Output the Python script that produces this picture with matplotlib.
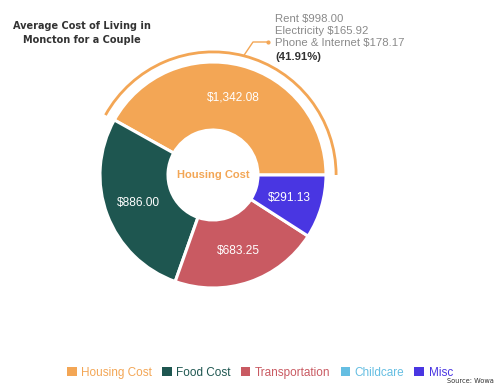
import numpy as np
import matplotlib
matplotlib.use("Agg")
import matplotlib.pyplot as plt
from matplotlib.patches import Wedge, Patch

categories = ["Housing Cost", "Food Cost", "Transportation", "Childcare", "Misc"]
values = [1342.08, 886.00, 683.25, 0.0, 291.13]
colors = ["#F3A655", "#1E5650", "#C95A62", "#65BEE2", "#4936E2"]
housing_detail = ["Rent $998.00", "Electricity $165.92", "Phone & Internet $178.17"]
title = "Average Cost of Living in\nMoncton for a Couple"
center_label = "Housing Cost"
source = "Source: Wowa"

W, H = 500, 389
fig = plt.figure(figsize=(W / 100, H / 100), dpi=100)
ax = fig.add_axes([0, 0, 1, 1])

font = "Liberation Sans"
cx, cy = 213, H - 175
R = 113
hole = 45

total = sum(values)
idx = [i for i, v in enumerate(values) if v > 0]
wedges, _ = ax.pie([values[i] for i in idx], colors=[colors[i] for i in idx],
                   startangle=0, counterclock=True, center=(cx, cy), radius=R,
                   wedgeprops=dict(width=R - hole, edgecolor="white", linewidth=2.2),
                   frame=True)
ax.set_xlim(0, W)
ax.set_ylim(0, H)
ax.set_aspect("equal")
ax.axis("off")

# value labels
for w, i in zip(wedges, idx):
    mid = np.deg2rad((w.theta1 + w.theta2) / 2)
    r = 80
    ax.text(cx + r * np.cos(mid), cy + r * np.sin(mid), f"${values[i]:,.2f}",
            ha="center", va="center", color="white", fontsize=8.6, family=font)

# halo on housing slice
hw = wedges[0]
ax.add_patch(Wedge((cx, cy), 124.5, hw.theta1, hw.theta2, width=2.8,
                   facecolor=colors[0], edgecolor="none"))

# leader line
mid = np.deg2rad((hw.theta1 + hw.theta2) / 2)
p0 = (cx + 124 * np.cos(mid), cy + 124 * np.sin(mid))
ax.plot([p0[0], 253, 268], [p0[1], H - 42, H - 42], color=colors[0], lw=1)
ax.plot([268], [H - 42], "o", color=colors[0], ms=2)

for k, line in enumerate(housing_detail):
    ax.text(275, H - 19 - 12 * k, line, ha="left", va="center",
            color="#8a8a8a", fontsize=8.2, family=font)
ax.text(275, H - 57, f"({values[0] / total * 100:.2f}%)", ha="left", va="center",
        color="#333333", fontsize=8.2, family=font, fontweight="bold")

# center label
ax.text(cx, cy, center_label, ha="center", va="center", color=colors[0],
        fontsize=8, family=font, fontweight="bold")

# title
ax.text(82, H - 33, title, ha="center", va="center", color="#333333",
        fontsize=7, family="DejaVu Sans", fontweight="bold", linespacing=1.5)

# legend
handles = [Patch(facecolor=c, edgecolor="none") for c in colors]
fig.legend(handles, categories, loc="center", bbox_to_anchor=(0.52, (H - 373) / H),
           ncol=5, frameon=False, labelcolor=colors,
           prop={"family": font, "size": 8.5}, handlelength=0.8, handleheight=0.8,
           handletextpad=0.4, columnspacing=0.85)

ax.text(494, H - 381, source, ha="right", va="center", color="#333333",
        fontsize=4.8, family="DejaVu Sans")

fig.savefig("out.png", dpi=100)
